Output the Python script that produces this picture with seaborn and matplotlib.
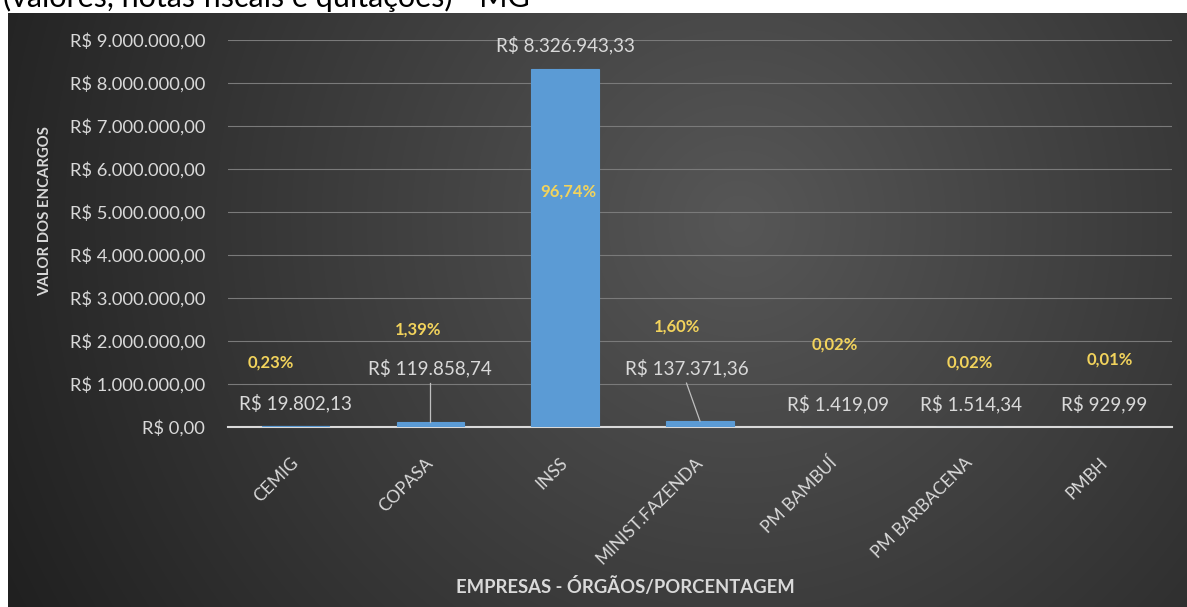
import numpy as np
import pandas as pd
import matplotlib
matplotlib.use("Agg")
import matplotlib.pyplot as plt
import seaborn as sns

# ---------------- data ----------------
categories = ["CEMIG", "COPASA", "INSS", "MINIST.FAZENDA", "PM BAMBUÍ", "PM BARBACENA", "PMBH"]
values = [19802.13, 119858.74, 8326943.33, 137371.36, 1419.09, 1514.34, 929.99]
percent_labels = ["0,23%", "1,39%", "96,74%", "1,60%", "0,02%", "0,02%", "0,01%"]
y_tick_values = [0, 1e6, 2e6, 3e6, 4e6, 5e6, 6e6, 7e6, 8e6, 9e6]
x_title = "EMPRESAS - ÓRGÃOS/PORCENTAGEM"
y_title = "VALOR DOS ENCARGOS"
top_caption = "(valores, notas fiscais e quitações) - MG - "

# label layout (data units: category offset, value in millions)
value_label_dx = [0.0, 0.0, 0.0, -0.10, 0.02, 0.01, 0.0]
value_label_y = [0.56, 1.37, 8.88, 1.37, 0.53, 0.53, 0.53]
pct_label_dx = [-0.18, -0.09, 0.02, -0.17, 0.0, 0.0, 0.04]
pct_label_y = [1.51, 2.26, 5.47, 2.33, 1.91, 1.49, 1.56]
leader = {1: (0.0, 1.02), 3: (-0.10, 1.02)}


def brl(v):
    s = f"{v:,.2f}"
    s = s.replace(",", "X").replace(".", ",").replace("X", ".")
    return "R$ " + s


FONT = ["Lato", "DejaVu Sans"]
TXT = "#d9d9d9"
YEL = "#f2d35c"
BLUE = "#5b9bd5"

W, H, DPI = 1187, 607, 100
fig = plt.figure(figsize=(W / DPI, H / DPI), dpi=DPI, facecolor="white")
plt.rcParams["font.family"] = FONT

# ----- dark gradient background panel -----
left_px, top_px = 8, 13
bg = fig.add_axes([left_px / W, 0, (W - left_px) / W, (H - top_px) / H])
bg.set_zorder(1)
bw, bh = W - left_px, H - top_px
xx, yy = np.meshgrid(np.arange(bw), np.arange(bh))
cx, cy = 0.62 * bw, 0.35 * bh
d = np.sqrt((xx - cx) ** 2 + (yy - cy) ** 2)
inten = np.clip(0.34 - 0.19 * (d / 731.0), 0.11, 0.4)
img = np.dstack([inten, inten, inten])
bg.imshow(img, aspect="auto", interpolation="bilinear")
bg.set_axis_off()

cap = fig.text(3 / W, 1 - 7 / H, top_caption, fontsize=22, color="black",
               family=["Lato", "DejaVu Sans"], va="baseline", ha="left")
cap.set_zorder(0)

# ----- main axes -----
ax_left, ax_right, ax_top, ax_bottom = 228, 1172, 40, 427
ax = fig.add_axes([ax_left / W, (H - ax_bottom) / H,
                   (ax_right - ax_left) / W, (ax_bottom - ax_top) / H])
ax.set_zorder(2)
ax.set_facecolor("none")

df = pd.DataFrame({"cat": categories, "val": values})
sns.barplot(data=df, x="cat", y="val", color=BLUE, width=0.5, ax=ax,
            saturation=1, edgecolor=BLUE, linewidth=0.8, zorder=3)

ax.set_ylim(0, 9e6)
ax.set_xlim(-0.5, len(categories) - 0.5)
ax.set_yticks(y_tick_values)
ax.set_yticklabels([brl(v) for v in y_tick_values])
ax.grid(axis="y", color="#7a7a7a", linewidth=0.8, zorder=0)
ax.grid(axis="x", visible=False)
for s in ["top", "right", "left"]:
    ax.spines[s].set_visible(False)
ax.spines["bottom"].set_color("#d9d9d9")
ax.spines["bottom"].set_linewidth(1.5)
ax.spines["bottom"].set_zorder(2)

ax.tick_params(axis="y", length=0, pad=16.5, labelsize=13.2, labelcolor=TXT)
ax.tick_params(axis="x", length=0, pad=24, labelsize=12.5, labelcolor=TXT)
for lab in ax.get_xticklabels():
    lab.set_rotation(45)
    lab.set_ha("right")
    lab.set_va("center")
    lab.set_rotation_mode("anchor")

ax.set_ylabel(y_title, fontsize=10.7, fontweight="bold", color=TXT)
ax.yaxis.set_label_coords((52 - ax_left) / (ax_right - ax_left),
                          (ax_bottom - 211) / (ax_bottom - ax_top))
ax.set_xlabel(x_title, fontsize=13.3, fontweight="bold", color=TXT)
ax.xaxis.set_label_coords((625 - ax_left) / (ax_right - ax_left),
                          (ax_bottom - 577) / (ax_bottom - ax_top))

# value and percent labels
for i, v in enumerate(values):
    ax.text(i + value_label_dx[i], value_label_y[i] * 1e6, brl(v), ha="center",
            va="center", fontsize=13.6, color=TXT, zorder=5, clip_on=False)
    ax.text(i + pct_label_dx[i], pct_label_y[i] * 1e6, percent_labels[i],
            ha="center", va="center", fontsize=12, fontweight="bold",
            color=YEL, zorder=5, clip_on=False)
for i, (dx, ytop) in leader.items():
    ax.plot([i + dx, i], [ytop * 1e6, values[i]], color="#bfbfbf",
            linewidth=0.9, zorder=5)

fig.savefig("out.png", dpi=DPI, facecolor="white")
